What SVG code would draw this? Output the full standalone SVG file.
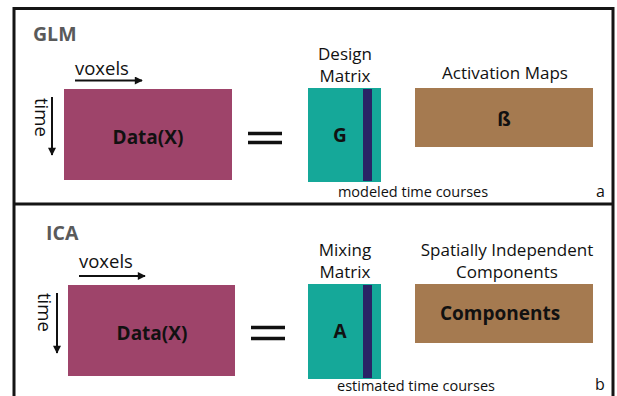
<svg xmlns="http://www.w3.org/2000/svg" width="617" height="396" viewBox="0 0 617 396">
  <defs>
    <marker id="ah" viewBox="0 0 10 10" refX="9" refY="5" markerWidth="4.5" markerHeight="4" markerUnits="strokeWidth" orient="auto">
      <path d="M0,0 L10,5 L0,10 z" fill="#111"/>
    </marker>
    <style>
      text { font-family: "Open Sans", "Noto Sans", "Liberation Sans", sans-serif; fill: #111; }
      .title { font-size: 19.5px; font-weight: bold; fill: #5a5a5a; }
      .lbl { font-size: 17px; }
      .axis { font-size: 18.5px; }
      .cap { font-size: 14.5px; }
      .tag { font-size: 16px; }
      .big { font-size: 19px; font-weight: bold; }
      .frame { stroke: #151515; stroke-width: 3; fill: none; }
      .arrow { stroke: #111; stroke-width: 2; fill: none; marker-end: url(#ah); }
      .eq { stroke: #111; stroke-width: 3.4; }
      .data { fill: #9e446a; }
      .mat { fill: #15a899; }
      .stripe { fill: #2a2466; }
      .map { fill: #a57a50; }
    </style>
  </defs>
  <rect width="617" height="396" fill="#ffffff"/>

  <!-- panel frames -->
  <g id="frames">
    <path class="frame" d="M14,396 V8.5 H613 V396"/>
    <path class="frame" d="M14,204 H613"/>
  </g>

  <!-- GLM panel -->
  <g id="glm">
    <text class="title" x="33" y="41">GLM</text>
    <text class="axis" x="75" y="75">voxels</text>
    <text class="axis" x="0" y="0" transform="translate(35,98) rotate(90)">time</text>
    <g id="glm-data">
      <rect class="data" x="64" y="89" width="168" height="91"/>
      <text class="big" x="148" y="143.5" text-anchor="middle">Data(X)</text>
    </g>
    <g id="glm-design">
      <text class="lbl" x="345" y="60" text-anchor="middle">Design</text>
      <text class="lbl" x="345" y="82" text-anchor="middle">Matrix</text>
      <rect class="mat" x="308" y="88" width="73" height="94"/>
      <rect class="stripe" x="363" y="89" width="9" height="92"/>
      <text class="big" x="340" y="142" text-anchor="middle" font-size="20">G</text>
      <text class="cap" x="413" y="197" text-anchor="middle">modeled time courses</text>
    </g>
    <g id="glm-maps">
      <text class="lbl" x="505" y="78.5" text-anchor="middle">Activation Maps</text>
      <rect class="map" x="415" y="88" width="178" height="59"/>
      <text class="big" x="504" y="126" text-anchor="middle">ß</text>
    </g>
    <text class="tag" x="596" y="197">a</text>
  </g>

  <!-- ICA panel -->
  <g id="ica">
    <text class="title" x="46" y="240">ICA</text>
    <text class="axis" x="79" y="268">voxels</text>
    <text class="axis" x="0" y="0" transform="translate(38,293) rotate(90)">time</text>
    <g id="ica-data">
      <rect class="data" x="68" y="285" width="167" height="91"/>
      <text class="big" x="152" y="339.5" text-anchor="middle">Data(X)</text>
    </g>
    <g id="ica-mixing">
      <text class="lbl" x="345" y="256" text-anchor="middle">Mixing</text>
      <text class="lbl" x="345" y="278" text-anchor="middle">Matrix</text>
      <rect class="mat" x="308" y="284" width="73" height="95"/>
      <rect class="stripe" x="363" y="285" width="9" height="93"/>
      <text class="big" x="340" y="338" text-anchor="middle" font-size="20">A</text>
      <text class="cap" x="416" y="391" text-anchor="middle">estimated time courses</text>
    </g>
    <g id="ica-components">
      <text class="lbl" x="507" y="256" text-anchor="middle">Spatially Independent</text>
      <text class="lbl" x="507" y="278" text-anchor="middle">Components</text>
      <rect class="map" x="415" y="284" width="178" height="59"/>
      <text class="big" x="500" y="320" text-anchor="middle" font-size="20">Components</text>
    </g>
    <text class="tag" x="595" y="390">b</text>
  </g>

  <!-- arrows and equals signs -->
  <g id="connectors">
    <line class="arrow" x1="75" y1="80.5" x2="142" y2="80.5"/>
    <line class="arrow" x1="52" y1="97" x2="52" y2="155"/>
    <line class="eq" x1="248" y1="133.5" x2="282" y2="133.5"/>
    <line class="eq" x1="248" y1="142.5" x2="282" y2="142.5"/>
    <line class="arrow" x1="79" y1="276" x2="145" y2="276"/>
    <line class="arrow" x1="57" y1="293" x2="57" y2="353"/>
    <line class="eq" x1="251" y1="327.5" x2="285" y2="327.5"/>
    <line class="eq" x1="251" y1="338.5" x2="285" y2="338.5"/>
  </g>
</svg>
